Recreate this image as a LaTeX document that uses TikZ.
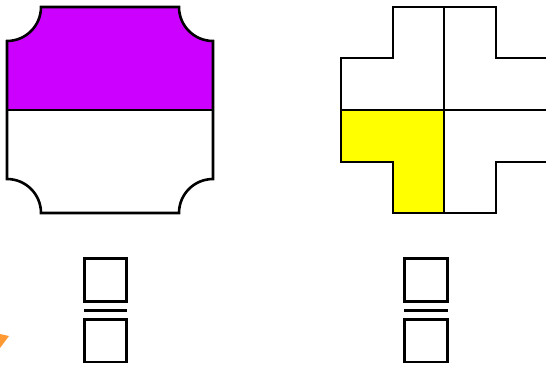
\documentclass[tikz,border=0pt]{standalone}
\usepackage{tikz}
\usetikzlibrary{positioning,calc}

\definecolor{shadepurple}{HTML}{CC00FF}
\definecolor{shadeyellow}{HTML}{FFFF00}
\definecolor{pointerorange}{HTML}{FF9933}

\begin{document}
\begin{tikzpicture}[
  x=1pt,y=-1pt,
  outline/.style={draw=black,line width=2.6pt,line join=miter},
  blank/.style={rectangle,draw=black,line width=2.6pt,minimum size=42.5pt,inner sep=0pt},
  bar/.style={black,line width=2.8pt},
]

\clip (0,0) rectangle (546,368);
\fill[white] (0,0) rectangle (546,368);

% === LEFT: square with notched corners ===
\fill[shadepurple] (7,110) -- (7,41) arc[start angle=90,end angle=0,radius=34]
  -- (179,7) arc[start angle=180,end angle=90,radius=34] -- (213,110) -- cycle;
\draw[outline] (41,7) -- (179,7) arc[start angle=180,end angle=90,radius=34]
  -- (213,179) arc[start angle=270,end angle=180,radius=34]
  -- (41,213) arc[start angle=0,end angle=-90,radius=34]
  -- (7,41) arc[start angle=90,end angle=0,radius=34] -- cycle;
\draw[outline] (7,110) -- (213,110);

% === RIGHT: cross ===
\fill[shadeyellow] (341,110) -- (444,110) -- (444,213) -- (393,213) -- (393,162) -- (341,162) -- cycle;
\draw[outline] (550,58) -- (496,58) -- (496,7) -- (393,7) -- (393,58) -- (341,58)
  -- (341,162) -- (393,162) -- (393,213) -- (496,213) -- (496,162) -- (550,162);
\draw[outline] (444,7) -- (444,213);
\draw[outline] (341,110) -- (550,110);

% === Fractions to fill in ===
\node[blank] (numL) at (105.5,280) {};
\node[blank,below=15.5pt of numL] (denL) {};
\draw[bar] ($(numL.south west)!0.5!(denL.north west)+(1,0)$) -- ($(numL.south east)!0.5!(denL.north east)+(-1,0)$);

\node[blank] (numR) at (426,280) {};
\node[blank,below=15.5pt of numR] (denR) {};
\draw[bar] ($(numR.south west)!0.5!(denR.north west)+(1,0)$) -- ($(numR.south east)!0.5!(denR.north east)+(-1,0)$);

% === pointer at the edge ===
\fill[pointerorange] (0,334) -- (9,336) -- (0,348) -- cycle;

\end{tikzpicture}
\end{document}
